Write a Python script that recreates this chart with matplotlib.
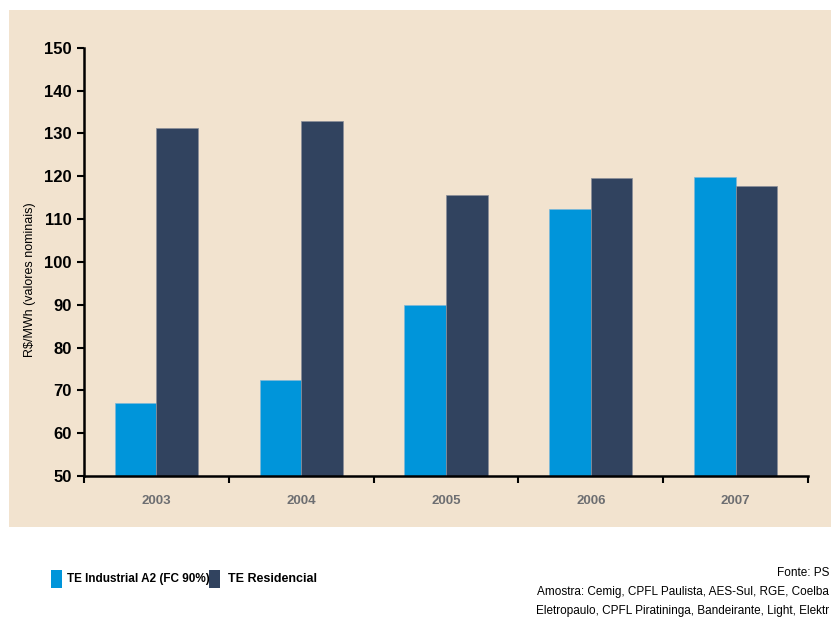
import matplotlib.pyplot as plt
from matplotlib.patches import Rectangle
import numpy as np

years = ["2003", "2004", "2005", "2006", "2007"]
industrial = [67.0, 72.4, 90.0, 112.3, 119.7]
residencial = [131.3, 133.0, 115.7, 119.5, 117.8]
yticks = [50, 60, 70, 80, 90, 100, 110, 120, 130, 140, 150]

plt.rcParams['font.family'] = ['Liberation Sans', 'DejaVu Sans']

light = "#0095DA"
dark = "#31435F"
panel = "#F2E3CF"

fig = plt.figure(figsize=(8.31, 6.20), dpi=100)
W, H = 831, 620

# beige panel behind the chart
fig.patches.append(Rectangle((9 / W, 1 - 527 / H), (W - 9) / W, (527 - 10) / H,
                             transform=fig.transFigure, facecolor=panel,
                             edgecolor="none", zorder=-10))

ax = fig.add_axes([84 / W, 1 - 476 / H, (808 - 84) / W, (476 - 47.7) / H])
ax.set_facecolor("none")
ax.set_zorder(5)

x = np.arange(len(years))
w = 0.287
ax.bar(x - w / 2, industrial, width=w, color=light, edgecolor="#7fb8d8", linewidth=0.5)
ax.bar(x + w / 2, residencial, width=w, color=dark, edgecolor="#8a8f99", linewidth=0.5)

ax.set_ylim(50, 150)
ax.set_xlim(-0.5, len(years) - 0.5)
ax.set_yticks(yticks)
ax.set_yticklabels([str(v) for v in yticks], fontsize=12, fontweight="bold")
ax.set_xticks(np.arange(len(years) + 1) - 0.5)
ax.set_xticklabels([])
ax.set_xticks(x, minor=True)
ax.set_xticklabels(years, minor=True, fontsize=9.5, fontweight="bold", color="#6d6e71")
ax.tick_params(axis="x", which="minor", length=0, pad=14)
ax.tick_params(axis="x", which="major", length=5, width=1.5, direction="out")
ax.tick_params(axis="y", length=5, width=1.5, direction="out", pad=4)

for s in ["top", "right"]:
    ax.spines[s].set_visible(False)
ax.spines["left"].set_linewidth(1.8)
ax.spines["bottom"].set_linewidth(1.8)

fig.text(30 / W, 1 - 280 / H, "R$/MWh (valores nominais)", rotation=90,
         ha="center", va="center", fontsize=9)

# legend
fig.patches.append(Rectangle((51 / W, 1 - 588 / H), 11 / W, 18 / H,
                             transform=fig.transFigure, facecolor=light, edgecolor="none"))
fig.text(67 / W, 1 - 579 / H, "TE Industrial A2 (FC 90%)", ha="left", va="center",
         fontsize=8.5, fontweight="bold")
fig.patches.append(Rectangle((209 / W, 1 - 588 / H), 11 / W, 18 / H,
                             transform=fig.transFigure, facecolor=dark, edgecolor="none"))
fig.text(228 / W, 1 - 579 / H, "TE Residencial", ha="left", va="center",
         fontsize=9, fontweight="bold")

# source notes
fig.text(829 / W, 1 - 573 / H, "Fonte: PS", ha="right", va="center", fontsize=8.5)
fig.text(829 / W, 1 - 592 / H, "Amostra: Cemig, CPFL Paulista, AES-Sul, RGE, Coelba",
         ha="right", va="center", fontsize=8.5)
fig.text(829 / W, 1 - 611 / H, "Eletropaulo, CPFL Piratininga, Bandeirante, Light, Elektr",
         ha="right", va="center", fontsize=8.5)

fig.savefig("out.png", dpi=100, facecolor="white")
